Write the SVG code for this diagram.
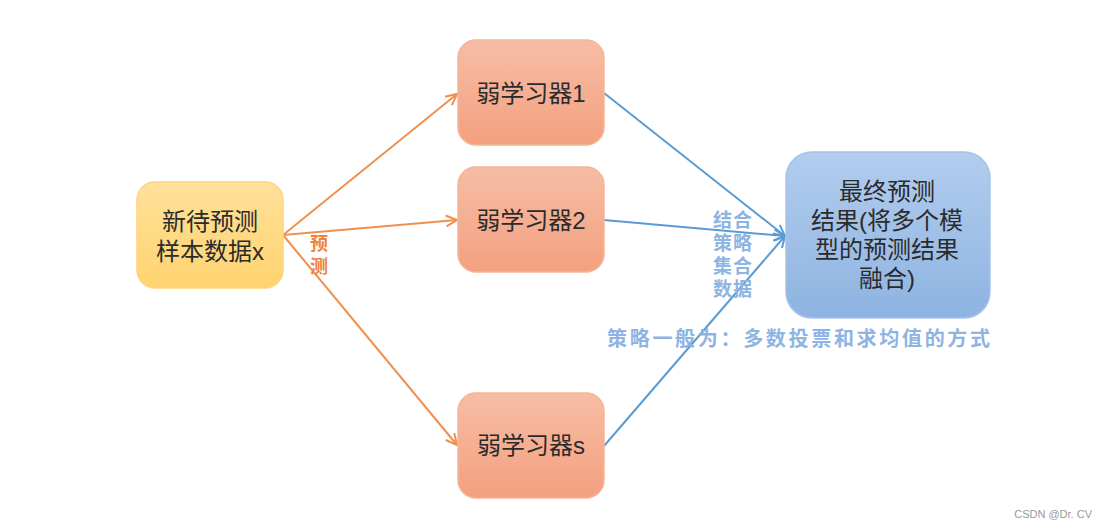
<svg xmlns="http://www.w3.org/2000/svg" width="1104" height="528" viewBox="0 0 1104 528">
<style>
.nt{font-family:"Liberation Sans","Noto Sans CJK SC",sans-serif;font-size:24px;fill:#2b2b2b;text-anchor:middle}
.ol{stroke:#F0904F;stroke-width:2;fill:none}
.bl{stroke:#5B9BD5;stroke-width:2;fill:none}
.ot{font-family:"Liberation Sans","Noto Sans CJK SC",sans-serif;font-weight:bold;font-size:18px;fill:#EE8240;text-anchor:middle}
.bt{font-family:"Liberation Sans","Noto Sans CJK SC",sans-serif;font-weight:bold;font-size:20px;fill:#8DB4E2}
.bs{font-family:"Liberation Sans","Noto Sans CJK SC",sans-serif;font-weight:bold;font-size:19px;letter-spacing:1px;fill:#8DB4E2;text-anchor:middle}
</style>
<defs>
<linearGradient id="gy" x1="0" y1="0" x2="0" y2="1"><stop offset="0" stop-color="#FFE19A"/><stop offset="1" stop-color="#FFD36F"/></linearGradient>
<linearGradient id="go" x1="0" y1="0" x2="0" y2="1"><stop offset="0" stop-color="#F6BDA4"/><stop offset="1" stop-color="#F4A07F"/></linearGradient>
<linearGradient id="gb" x1="0" y1="0" x2="0" y2="1"><stop offset="0" stop-color="#B2CDEE"/><stop offset="1" stop-color="#8EB3E1"/></linearGradient>
<marker id="ao" viewBox="0 0 14 14" refX="13" refY="7" markerWidth="14" markerHeight="14" markerUnits="userSpaceOnUse" orient="auto"><polyline points="2,1.5 13,7 2,12.5" fill="none" stroke="#F0904F" stroke-width="2"/></marker>
<marker id="ab" viewBox="0 0 14 14" refX="13" refY="7" markerWidth="14" markerHeight="14" markerUnits="userSpaceOnUse" orient="auto"><polyline points="2,1.5 13,7 2,12.5" fill="none" stroke="#5B9BD5" stroke-width="2"/></marker>
</defs>
<g id="connectors">
<line class="ol" x1="283" y1="235" x2="457" y2="94" marker-end="url(#ao)"/>
<line class="ol" x1="283" y1="235" x2="457" y2="220" marker-end="url(#ao)"/>
<line class="ol" x1="283" y1="235" x2="457" y2="445" marker-end="url(#ao)"/>
<line class="bl" x1="604" y1="93" x2="785" y2="236" marker-end="url(#ab)"/>
<line class="bl" x1="604" y1="220" x2="785" y2="236" marker-end="url(#ab)"/>
<line class="bl" x1="604" y1="446" x2="785" y2="236" marker-end="url(#ab)"/>
</g>
<g id="labels">
<text class="ot" x="319" y="250">预</text>
<text class="ot" x="319" y="273">测</text>
<text class="bs" x="733" y="227">结合</text>
<text class="bs" x="733" y="250">策略</text>
<text class="bs" x="733" y="273">集合</text>
<text class="bs" x="733" y="296">数据</text>
<text class="bt" x="607" y="346" textLength="383" lengthAdjust="spacing">策略一般为：多数投票和求均值的方式</text>
</g>
<g id="node-input">
<rect x="137" y="182" width="146" height="106" rx="18" fill="url(#gy)" stroke="#FFD47E" stroke-width="1.5"/>
<text class="nt" x="210" y="230">新待预测</text>
<text class="nt" x="210" y="260">样本数据x</text>
</g>
<g id="node-learner1">
<rect x="458" y="40" width="146" height="105" rx="18" fill="url(#go)" stroke="#F5B598" stroke-width="1.5"/>
<text class="nt" x="531" y="102">弱学习器1</text>
</g>
<g id="node-learner2">
<rect x="458" y="167" width="146" height="105" rx="18" fill="url(#go)" stroke="#F5B598" stroke-width="1.5"/>
<text class="nt" x="531" y="229">弱学习器2</text>
</g>
<g id="node-learners">
<rect x="458" y="393" width="146" height="105" rx="18" fill="url(#go)" stroke="#F5B598" stroke-width="1.5"/>
<text class="nt" x="531" y="454">弱学习器s</text>
</g>
<g id="node-result">
<rect x="786" y="152" width="204" height="166" rx="26" fill="url(#gb)" stroke="#A6C3E8" stroke-width="1.5"/>
<text class="nt" x="887" y="200">最终预测</text>
<text class="nt" x="887" y="229">结果(将多个模</text>
<text class="nt" x="887" y="258">型的预测结果</text>
<text class="nt" x="887" y="287">融合)</text>
</g>
<text x="1092" y="518" text-anchor="end" font-family="Liberation Sans,Arial,sans-serif" font-size="11" fill="#999">CSDN @Dr. CV</text>
</svg>
